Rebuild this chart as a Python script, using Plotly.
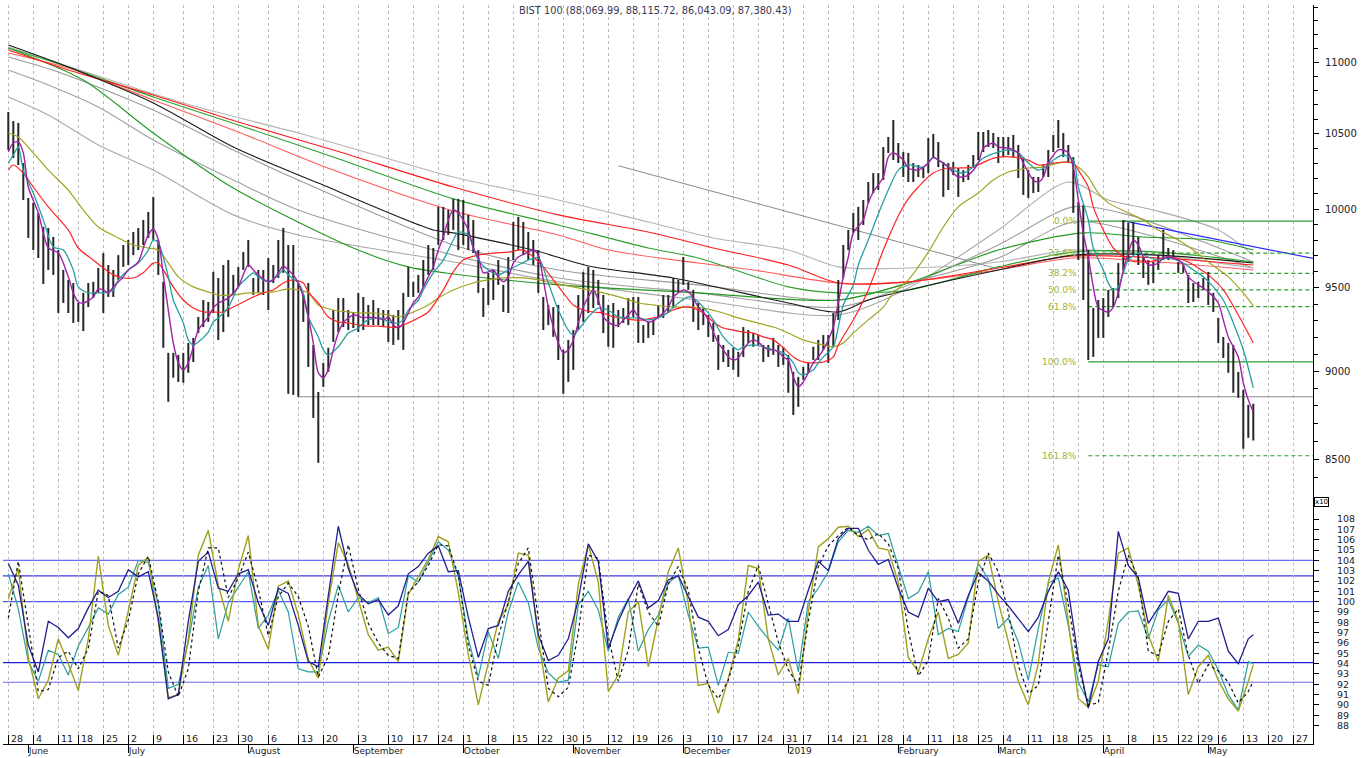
import math
import plotly.graph_objects as go

# ---------------- data (index units: trading-day number from 28 May 2018) ----------------
high = [10650,10588,10575,10303,10072,10040,9975,9884,9878,9820,
        9737,9612,9550,9531,9408,9470,9531,9538,9624,9718,
        9643,9612,9705,9769,9801,9852,9878,9929,9981,10079,
        9801,9538,9108,9108,9096,9108,9167,9197,9323,9426,
        9414,9600,9562,9643,9674,9581,9631,9724,9801,9562,
        9612,9612,9687,9643,9801,9878,9769,9769,9531,9457,
        9531,9155,8880,9049,9138,9365,9438,9438,9365,9353,
        9470,9445,9396,9426,9377,9365,9365,9335,9365,9470,
        9631,9538,9581,9674,9769,9750,10014,10014,9994,10066,
        10066,10059,9962,9929,9737,9500,9594,9612,9674,9519,
        9693,9916,9949,9916,9852,9801,9737,9445,9396,9383,
        9396,9126,9185,9244,9457,9600,9631,9612,9550,9457,
        9396,9408,9365,9377,9438,9445,9445,9274,9293,9305,
        9396,9457,9457,9562,9550,9693,9538,9488,9408,9377,
        9335,9287,9214,9155,9126,9138,9114,9262,9244,9226,
        9214,9155,9155,9197,9155,9144,9096,8996,8967,9025,
        9049,9144,9185,9214,9214,9347,9550,9769,9865,9975,
        10014,10059,10177,10236,10236,10411,10479,10595,10438,10377,
        10371,10303,10290,10276,10472,10500,10445,10310,10303,10310,
        10270,10256,10290,10357,10513,10513,10527,10506,10479,10479,
        10479,10493,10425,10343,10256,10210,10210,10290,10391,10493,
        10595,10506,10425,10343,10046,10027,9737,9377,9426,9438,
        9488,9500,9655,9929,9910,9916,9820,9693,9674,9662,
        9705,9865,9750,9737,9662,9643,9581,9531,9538,9562,
        9600,9470,9317,9203,9167,9155,8996,8892,8806,8812]
low = [10391,10337,10290,10059,9814,9737,9687,9525,9612,9581,
       9347,9408,9347,9287,9293,9238,9383,9438,9470,9347,
       9445,9445,9550,9631,9643,9705,9737,9769,9814,9801,
       9581,9138,8823,8962,8938,8933,8991,9054,9226,9262,
       9293,9347,9185,9232,9323,9457,9507,9612,9631,9457,
       9470,9457,9365,9531,9562,9594,8869,8863,8852,9293,
       9025,8731,8480,8909,8996,9173,9232,9262,9244,9256,
       9232,9244,9274,9274,9274,9262,9173,9155,9185,9126,
       9445,9445,9470,9507,9581,9612,9769,9801,9833,9865,
       9737,9769,9737,9718,9470,9323,9396,9426,9519,9353,
       9347,9674,9737,9705,9674,9643,9470,9244,9274,9203,
       9066,8869,8938,9008,9244,9293,9347,9377,9396,9226,
       9144,9138,9262,9287,9274,9323,9167,9167,9197,9214,
       9317,9317,9353,9377,9476,9519,9488,9293,9244,9274,
       9203,9173,9008,9054,9025,9008,8967,9084,9167,9144,
       9155,9054,9084,9096,9025,9037,8875,8748,8794,8950,
       8991,9066,9066,9126,9049,9144,9305,9562,9737,9846,
       9801,9897,10040,10104,10124,10190,10371,10323,10303,10210,
       10177,10177,10210,10203,10236,10343,10276,10079,10124,10223,
       10079,10177,10190,10270,10323,10377,10411,10404,10303,10343,
       10357,10343,10203,10092,10072,10104,10111,10210,10210,10377,
       10404,10343,10303,9975,9674,9426,9066,9084,9197,9197,
       9323,9383,9438,9612,9662,9705,9643,9562,9519,9531,
       9612,9674,9674,9693,9594,9594,9408,9414,9438,9488,
       9396,9353,9167,9078,8991,8875,8846,8558,8619,8604]
days = list(range(len(high)))

# short moving averages
purple_x = [0,1,2,3,4,6,7,8,10,12,13,14,15,17,18,19,20,21,23,24,26,27,28,29,30,31,32,33,34,35,
            36,37,38,40,41,42,44,45,46,48,49,50,52,53,54,55,56,57,58,59,60,61,62,63,64,65,66,67,68,69,
            70,71,72,73,74,75,76,77,78,79,80,81,82,83,84,85,86,87,88,89,90,92,93,94,95,96,97,98,99,100,
            101,102,104,105,106,107,108,109,110,111,112,113,114,115,116,117,118,119,120,121,
            122,123,124,125,126,127,128,129,130,131,132,133,134,135,136,137,138,139,140,141,
            142,143,144,145,146,147,148,149,150,151,152,153,154,155,156,157,158,159,160,161,
            162,163,164,165,166,167,168,169,171,172,173,175,176,177,179,180,182,184,185,186,
            188,189,190,192,194,195,197,198,200,201,202,203,205,206,207,208,210,211,212,213,
            214,215,216,217,218,220,221,222,223,224,225,226,227,228,230,231,232,234,235,236,
            238,239,240,242,243,244,246,247,248,249]
purple_y = [10377,10438,10445,10371,10144,9975,9846,9750,9718,9569,9470,9414,9408,9445,9494,9488,9470,9507,9569,9612,
            9662,9750,9833,9871,9801,9581,9365,9167,9049,9008,9049,9144,9244,9323,9377,9408,9438,9470,9507,9643,
            9612,9581,9538,9550,9594,9637,9612,9581,9531,9445,9323,9167,8991,8962,9008,9126,9226,9287,9317,9335,
            9329,9317,9323,9317,9317,9305,9323,9274,9256,9287,9347,9408,9445,9507,9569,9631,9737,9820,9929,9994,
            9975,9865,9750,9693,9594,9600,9612,9569,9538,9569,9655,9693,9724,9737,9705,9550,9383,9262,9167,9108,
            9126,9185,9287,9383,9445,9488,9426,9323,9293,9274,9274,9305,9335,9365,9323,9305,9293,9299,9323,9347,
            9383,9445,9470,9488,9476,9438,9383,9353,9305,9232,9167,9126,9084,9066,9078,9126,9167,9185,9173,9144,
            9126,9126,9114,9084,9066,8967,8909,8938,8991,9049,9084,9126,9185,9262,9408,9569,9693,9846,9929,10040,
            10111,10210,10343,10371,10323,10270,10256,10303,10343,10323,10276,10236,10210,10223,10303,10404,10438,10411,10404,10391,
            10371,10303,10190,10177,10210,10303,10391,10391,10371,10276,10059,9846,9693,9507,9383,9353,9383,9470,9612,9718,
            9801,9769,9693,9643,9655,9687,9693,9674,9643,9569,9519,9500,9476,9408,9305,9203,9084,8933,8834,8766]

teal_x = [0,1,2,3,5,7,9,11,13,14,16,18,19,21,22,24,26,28,29,30,32,33,35,36,37,38,40,41,42,44,
          45,46,48,49,50,52,54,55,56,58,59,60,62,63,64,66,67,68,70,71,72,74,75,76,78,79,80,82,83,85,
          87,89,90,92,93,94,96,98,100,102,104,106,108,110,112,113,114,116,118,120,
          122,124,126,128,130,132,134,136,137,139,141,143,145,146,147,149,151,153,155,157,
          158,159,161,162,163,165,166,167,169,170,172,174,176,178,180,183,185,187,189,191,
          193,195,198,200,202,204,206,208,209,211,213,214,216,217,219,220,221,222,223,224,
          226,227,230,232,235,237,239,241,243,245,247,249]
teal_y = [10303,10357,10411,10256,10104,9929,9756,9737,9612,9507,9470,9470,9470,9488,9550,9612,9655,9737,9801,9782,
          9569,9426,9287,9185,9155,9173,9232,9293,9317,9383,9445,9507,9569,9594,9569,9538,9581,9612,9581,9531,
          9470,9323,9203,9126,9096,9144,9185,9226,9256,9287,9305,9317,9311,9293,9287,9305,9365,9426,9488,9594,
          9674,9801,9852,9833,9750,9674,9612,9581,9612,9643,9674,9687,9531,9365,9244,9214,9244,9323,9377,9365,
          9323,9317,9317,9305,9317,9353,9408,9445,9438,9383,9305,9203,9144,9126,9144,9155,9144,9126,9108,9049,
          8991,8979,9008,9049,9084,9144,9262,9396,9519,9643,9801,9968,10124,10256,10290,10276,10337,10303,10256,10236,
          10276,10337,10377,10391,10371,10303,10256,10290,10323,10357,10323,10144,9929,9750,9612,9531,9488,9507,9594,9674,
          9718,9705,9674,9687,9655,9612,9569,9507,9426,9287,9126,8903]

red_x = [0,1,3,5,8,12,14,17,19,21,23,25,27,29,30,31,33,35,37,39,41,43,45,47,49,51,53,55,57,59,
         60,62,64,66,68,70,72,74,76,78,80,82,84,87,89,91,94,97,100,103,105,107,109,111,113,115,117,119,121,123,
         125,127,129,131,133,135,137,139,141,143,145,147,149,151,153,155,157,159,161,163,
         165,166,169,172,175,178,180,182,185,188,190,193,196,198,201,204,206,209,211,213,
         214,216,217,219,221,224,228,232,236,238,240,243,246,249]
red_y = [10256,10290,10236,10144,10014,9865,9750,9674,9624,9581,9562,9562,9594,9655,9655,9612,9507,9426,9377,9353,
         9353,9353,9383,9414,9445,9470,9488,9531,9550,9531,9476,9408,9323,9293,9287,9274,9268,9268,9262,9262,
         9287,9317,9353,9488,9600,9674,9705,9718,9724,9737,9693,9631,9550,9470,9396,9365,9353,9347,9323,9317,
         9305,9305,9317,9335,9365,9383,9377,9347,9293,9256,9244,9232,9226,9203,9185,9138,9084,9054,9049,9054,
         9084,9155,9305,9488,9737,9955,10066,10144,10236,10270,10270,10276,10323,10343,10343,10323,10290,10303,10310,10303,
         10256,10144,10014,9865,9750,9674,9662,9693,9662,9624,9581,9488,9335,9167]

olive_x = [0,2,5,8,12,15,18,22,25,28,30,32,34,37,40,42,45,48,50,53,56,58,60,62,65,68,70,73,76,78,
           81,84,86,89,93,96,99,103,106,109,113,116,119,123,126,129,133,136,139,143,146,149,153,156,159,163,165,167,169,172,
           175,177,180,184,187,190,194,197,200,204,207,210,212,214,216,218,220,224,227,230,234,237,240,244,247,249]
olive_y = [10506,10479,10371,10256,10124,9994,9884,9814,9769,9750,9737,9655,9569,9507,9476,9457,9457,9470,9470,9476,
           9494,9488,9470,9396,9365,9353,9347,9347,9335,9323,9353,9396,9438,9488,9531,9550,9562,9562,9550,9531,
           9507,9488,9470,9438,9408,9396,9383,9383,9377,9347,9317,9293,9262,9226,9185,9155,9144,9167,9226,9305,
           9383,9470,9550,9724,9884,10014,10104,10190,10243,10270,10276,10303,10310,10276,10210,10104,10040,9975,9929,9865,
           9801,9737,9662,9569,9470,9390]

# long moving averages
ma_black_x = [0,12,29,45,62,85,89,105,116,133,156,166,172,180,198,213,230,249]
ma_black_y = [11124,10966,10713,10411,10170,9865,9846,9737,9637,9562,9408,9353,9426,9488,9612,9705,9705,9655]
ma_lgrey_x = [0,10,35,58,72,89,110,128,141,156,166,180,198,213,230,249]
ma_lgrey_y = [11110,10995,10713,10506,10371,10210,10059,9916,9814,9737,9631,9624,9662,9737,9705,9624]
ma_red_x = [0,12,29,46,65,89,110,128,141,156,166,180,198,213,230,249]
ma_red_y = [11088,10945,10769,10581,10391,10144,9962,9852,9750,9643,9531,9538,9624,9699,9687,9643]
ma_green_x = [0,12,29,46,65,89,110,128,138,156,166,180,198,213,230,249]
ma_green_y = [11103,10966,10755,10561,10343,10066,9897,9750,9687,9507,9470,9488,9631,9724,9724,9662]
ma_lred_x = [0,12,29,46,65,89,110,120,138,149,166,180,198,213,230,249]
ma_lred_y = [11067,10959,10734,10513,10256,9987,9833,9737,9655,9612,9531,9538,9612,9687,9662,9612]
ma_g1_x = [0,10,29,45,58,89,110,138,166,180,198,213,228,249]
ma_g1_y = [11038,10931,10664,10391,10190,9769,9612,9519,9426,9531,9687,9916,9833,9624]
ma_g2_x = [0,8,18,29,45,58,89,110,138,166,180,198,213,224,238,249]
ma_g2_y = [10945,10839,10685,10458,10190,9994,9705,9562,9470,9383,9519,9769,10014,9962,9801,9662]
ma_g3_x = [0,8,18,29,45,58,89,110,138,166,180,198,212,220,229,242,249]
ma_g3_y = [10755,10630,10425,10256,9962,9833,9662,9538,9426,9335,9500,9865,10177,10059,9994,9865,9705]
ma_dgreen_x = [0,15,29,45,70,80,89,110,138,166,180,198,215,227,240,249]
ma_dgreen_y = [11103,10874,10506,10137,9737,9631,9587,9519,9470,9426,9531,9737,9846,9820,9801,9737]

# drawn lines / levels
trend_grey_x = [122, 198]
trend_grey_y = [10285, 9618]
trend_blue_x = [223, 261]
trend_blue_y = [9923, 9684]
support_x = [58, 261]
support_level = 8852
fib_start = 216
fib_end = 261
fib_high = 9922
fib_low = 9055
fib_ratios = [0.0, 0.236, 0.382, 0.5, 0.618, 1.0, 1.618]
fib_labels = ["0.0%", "23.6%", "38.2%", "50.0%", "61.8%", "100.0%", "161.8%"]

# oscillator panel (x10)
osc_days = list(range(0, 249, 2)) + [249]
osc_navy = [103.7,101.6,95.8,93.2,98.1,97.5,96.5,97.4,99.4,101.1,
            100.4,101.0,103.1,102.4,102.9,98.4,90.6,91.0,98.1,103.9,
            104.8,101.3,101.0,102.7,103.1,99.9,97.7,101.3,100.8,97.7,
            94.2,93.7,100.6,107.3,103.2,100.7,99.8,100.2,98.7,99.6,
            102.7,103.4,104.7,105.4,102.9,
            103.0,98.5,94.6,97.4,97.7,101.0,102.6,103.9,96.8,94.3,
            94.8,96.4,100.2,105.6,103.9,95.5,98.1,100.2,102.0,99.4,
            100.1,102.1,102.5,100.5,98.5,98.1,96.7,97.3,99.7,100.6,
            101.9,98.7,98.8,98.1,98.1,101.1,103.9,103.0,106.1,107.1,
            107.1,105.0,103.6,104.1,101.3,99.0,
            98.5,101.3,100.0,100.2,97.9,100.6,102.8,102.0,100.7,99.6,
            98.4,97.1,98.5,101.0,102.9,101.1,94.5,89.7,94.2,96.4,
            106.8,103.5,102.3,97.9,99.4,101.0,100.8,96.4,98.1,98.1,
            98.4,95.2,94.0,96.4,96.8]
osc_teal = [102.7,99.3,94.2,92.3,95.3,94.9,92.9,95.7,97.5,99.4,
            98.8,100.7,101.4,104.0,103.8,99.7,91.6,92.0,96.1,101.4,
            103.5,96.4,99.9,101.4,102.9,97.4,98.7,101.1,99.0,93.5,
            93.2,93.2,98.1,101.6,99.0,100.4,99.9,100.4,96.9,97.5,
            102.5,101.9,103.9,105.8,105.0,
            102.5,96.4,92.7,97.1,94.5,99.0,101.9,99.9,95.5,93.1,
            92.2,92.4,99.7,101.0,99.2,95.2,98.5,100.3,95.2,97.3,
            98.7,101.8,102.6,98.7,95.5,95.6,91.9,95.1,95.0,99.0,
            97.6,96.4,95.3,98.4,93.2,100.0,101.3,102.9,105.8,106.9,
            106.7,107.3,106.4,106.6,103.4,100.3,
            100.9,102.9,96.8,97.4,97.1,100.3,103.7,102.2,97.4,98.4,
            96.1,92.4,97.4,101.8,102.3,97.7,92.2,90.3,93.9,93.7,
            97.9,99.0,99.1,96.4,99.2,100.2,97.9,94.7,95.8,95.2,
            93.4,91.0,89.5,94.2,94.0]
osc_olive = [100.3,103.2,94.6,90.6,92.4,96.4,94.0,91.4,96.4,104.4,
             97.7,94.8,99.1,103.5,104.3,98.1,90.7,91.0,96.4,104.5,
             106.9,101.6,98.1,103.1,106.4,97.7,95.4,101.5,102.0,98.7,
             94.4,92.6,99.9,105.7,103.6,100.2,96.8,95.3,95.6,94.2,
             100.7,102.4,104.1,106.3,105.8,
             100.9,94.9,90.0,94.1,98.1,99.7,104.7,104.5,96.4,90.3,
             92.6,93.3,101.7,105.5,101.9,91.3,92.9,99.0,100.0,93.7,
             98.4,102.9,105.2,99.8,91.9,92.1,89.2,92.6,96.3,103.5,
             103.2,96.4,92.9,94.5,91.1,99.0,105.3,106.1,107.2,107.3,
             106.3,107.0,105.2,105.0,101.9,94.6,
             93.2,96.4,99.0,94.5,94.9,96.0,103.9,104.5,100.0,96.1,
             92.3,90.0,94.0,101.9,105.5,98.1,90.6,89.8,92.3,98.2,
             104.7,105.2,101.6,96.8,94.2,100.6,98.1,91.0,93.7,94.8,
             92.4,90.6,89.4,92.3,93.9]
osc_signal = [98.4,103.9,97.7,91.3,91.5,94.6,95.2,93.5,95.5,101.0,
              100.6,95.5,98.2,102.7,104.4,100.0,93.2,90.8,93.5,101.0,
              105.2,105.2,100.4,102.3,104.8,101.2,96.7,100.5,101.8,100.5,
              97.6,92.7,94.7,100.7,105.5,101.2,97.9,96.0,94.8,94.5,
              100.9,101.9,103.5,105.5,105.4,
              102.6,95.8,92.3,91.9,96.6,100.0,103.7,105.2,98.4,91.6,
              90.8,91.7,97.0,104.5,104.2,96.6,92.3,95.3,101.7,99.0,
              97.6,101.7,103.4,101.1,95.5,91.9,90.6,92.4,95.8,101.0,
              103.5,99.7,96.1,93.4,91.9,98.1,103.4,105.4,106.4,107.2,
              106.4,106.0,106.6,105.6,103.2,97.2,
              92.8,94.3,100.3,98.4,95.5,96.4,101.9,104.7,102.9,99.0,
              93.8,91.1,91.9,98.1,104.5,99.7,93.8,90.0,90.2,95.2,
              101.0,104.5,102.3,95.2,94.8,98.1,99.3,94.8,92.1,93.9,
              93.3,92.2,90.2,91.3,92.3]
osc_levels = [104.0, 102.5, 100.0, 94.1, 92.2]
osc_level_colors = ["#6a6af2", "#3a3ae6", "#5a5af0", "#1a1ad8", "#6a6af2"]

# axis ticks
week_days = [0,5,10,14,19,24,29,35,41,46,52,58,63,70,76,81,86,91,96,101,106,111,115,120,125,130,
             135,140,145,150,155,159,164,169,174,179,184,189,194,199,204,209,214,219,224,229,234,238,242,247,252,257]
week_labels = ["28","4","11","18","25","2","9","16","23","30","6","13","20","3","10","17","24","1","8","15","22",
               "30","5","12","19","26","3","10","17","24","31","7","14","21","28","4","11","18","25","4","11","18","25",
               "1","8","15","22","29","6","13","20","27"]
month_days = [4, 24, 48, 69, 91, 113, 135, 156, 178, 198, 219, 240]
month_labels = ["June", "July", "August", "September", "October", "November", "December",
                "2019", "February", "March", "April", "May"]
price_ticks = [8500, 9000, 9500, 10000, 10500, 11000]
price_minor = list(range(8400, 11500, 100))
osc_ticks = list(range(88, 109))

title_text = "BIST 100 (88,069.99, 88,115.72, 86,043.09, 87,380.43)"

# ---------------- figure ----------------
X_RANGE = [-1.06, 260.94]
SPLIT = 0.3342
FONT = "DejaVu Sans, Liberation Sans, Arial, sans-serif"

fig = go.Figure()

def add_line(x, y, color, width=1.1, axis=("x", "y"), shape="spline", dash=None):
    fig.add_trace(go.Scatter(x=x, y=y, mode="lines", xaxis=axis[0], yaxis=axis[1],
                             line=dict(color=color, width=width, shape=shape, dash=dash,
                                       smoothing=0.8 if shape == "spline" else None),
                             hoverinfo="skip", showlegend=False))

# long MAs (background)
add_line(ma_g3_x, ma_g3_y, "#a9a9a9")
add_line(ma_g2_x, ma_g2_y, "#a0a0a0")
add_line(ma_g1_x, ma_g1_y, "#9a9a9a")
add_line(ma_dgreen_x, ma_dgreen_y, "#1f9a1f")
add_line(ma_lgrey_x, ma_lgrey_y, "#b4b4b4")
add_line(ma_lred_x, ma_lred_y, "#ff5a5a")
add_line(ma_green_x, ma_green_y, "#2ca02c")
add_line(ma_red_x, ma_red_y, "#ff1a1a")
add_line(ma_black_x, ma_black_y, "#1a1a1a")

# trend / support lines
add_line(trend_grey_x, trend_grey_y, "#8a8a8a", 1, shape="linear")
add_line(trend_blue_x, trend_blue_y, "#2b2bff", 1.2, shape="linear")
add_line(support_x, [support_level, support_level], "#8c8c8c", 1.2, shape="linear")

# fibonacci levels
for r, lab in zip(fib_ratios, fib_labels):
    lvl = fib_high - r * (fib_high - fib_low)
    solid = r in (0.0, 1.0)
    add_line([fib_start, fib_end], [lvl, lvl], "#2f9f2f", 1.2, shape="linear",
             dash=None if solid else "4px,3px")
    fig.add_annotation(x=214.2, y=math.log10(lvl), xref="x", yref="y", text=lab,
                       showarrow=False, xanchor="right", yanchor="middle",
                       font=dict(family=FONT, size=9, color="#9cb43a"))

# price bars
bx, by = [], []
for d, h, l in zip(days, high, low):
    bx += [d, d, None]
    by += [l, h, None]
fig.add_trace(go.Scatter(x=bx, y=by, mode="lines", line=dict(color="#262626", width=2),
                         hoverinfo="skip", showlegend=False, xaxis="x", yaxis="y"))

# short MAs
add_line(olive_x, olive_y, "#a3a320", 1.2)
add_line(red_x, red_y, "#ff2222", 1.2)
add_line(teal_x, teal_y, "#24a0a0", 1.3)
add_line(purple_x, purple_y, "#a020a8", 1.4)

# oscillator panel
add_line(osc_days, osc_teal, "#2a9d9d", 1.2, axis=("x2", "y2"), shape="linear")
add_line(osc_days, osc_olive, "#a0a01e", 1.4, axis=("x2", "y2"), shape="linear")
add_line(osc_days, osc_navy, "#1f1f90", 1.3, axis=("x2", "y2"), shape="linear")
add_line(osc_days, osc_signal, "#111111", 1.2, axis=("x2", "y2"), shape="linear", dash="dot")
# invisible carrier for month axis
fig.add_trace(go.Scatter(x=[X_RANGE[0]], y=[95], xaxis="x3", yaxis="y2", mode="markers",
                         marker=dict(opacity=0), hoverinfo="skip", showlegend=False))

for lvl, col in zip(osc_levels, osc_level_colors):
    fig.add_shape(type="line", xref="x2 domain", x0=0, x1=1, yref="y2", y0=lvl, y1=lvl,
                  line=dict(color=col, width=1.2), layer="below")

# week-day labels sit above the date axis line, just right of each tick
for d, lab in zip(week_days, week_labels):
    fig.add_annotation(x=d, y=0.0068, xref="x2", yref="paper", text=lab, showarrow=False,
                       xanchor="left", yanchor="middle", xshift=1,
                       font=dict(family=FONT, size=9.5, color="#222"))

fig.add_annotation(x=0.4981, y=0.9932, xref="paper", yref="paper", text=title_text,
                   showarrow=False, xanchor="center", yanchor="middle",
                   font=dict(family=FONT, size=9.8, color="#3a3a55"))
fig.add_annotation(x=1.0008, y=SPLIT, xref="paper", yref="paper", text="x10",
                   showarrow=False, xanchor="left", yanchor="top",
                   bordercolor="#000", borderwidth=1, borderpad=0,
                   font=dict(family=FONT, size=7, color="#000"))

grid = dict(showgrid=True, gridcolor="#bdbdbd", griddash="dot", gridwidth=1)

fig.update_layout(
    template="none",
    width=1365, height=758,
    margin=dict(l=3, r=52, t=5, b=14, autoexpand=False),
    paper_bgcolor="white", plot_bgcolor="white",
    showlegend=False, hovermode=False,
    font=dict(family=FONT, size=10, color="#222"),
    xaxis=dict(domain=[0, 1], anchor="y", range=X_RANGE, tickmode="array", tickvals=week_days,
               showticklabels=False, ticks="", zeroline=False, showline=False, automargin=False, **grid),
    yaxis=dict(domain=[SPLIT, 1], anchor="x", type="log", range=[3.918759, 4.057546], side="right",
               tickmode="array", tickvals=price_ticks, ticktext=[str(v) for v in price_ticks],
               ticks="outside", ticklen=5, tickcolor="#000", showline=True, linecolor="#000",
               linewidth=1, showgrid=False, zeroline=False, automargin=False,
               ticklabelstandoff=4, tickfont=dict(family=FONT, size=10, color="#222"),
               minor=dict(tickmode="array", tickvals=price_minor, ticks="outside", ticklen=4,
                          tickcolor="#000", showgrid=False)),
    xaxis2=dict(domain=[0, 1], anchor="y2", range=X_RANGE, tickmode="array", tickvals=week_days,
                showticklabels=False, ticks="inside", ticklen=9, tickcolor="#000",
                showline=True, linecolor="#000", linewidth=1,
                zeroline=False, automargin=False, **grid),
    yaxis2=dict(domain=[0, SPLIT], anchor="x2", range=[86.22, 110.13], side="right",
                tickmode="array", tickvals=osc_ticks, ticks="outside", ticklen=5, tickcolor="#000",
                showline=True, linecolor="#000", linewidth=1, showgrid=False, zeroline=False,
                automargin=False, ticklabelstandoff=16,
                tickfont=dict(family=FONT, size=9.5, color="#222")),
    xaxis3=dict(overlaying="x2", anchor="y2", side="bottom", range=X_RANGE, tickmode="array",
                tickvals=month_days, ticktext=month_labels, ticks="outside", ticklen=8,
                tickcolor="#000", ticklabelposition="outside right", ticklabelstandoff=-2,
                showgrid=False, showline=False, zeroline=False, automargin=False,
                tickfont=dict(family=FONT, size=9, color="#222")),
)

fig.write_html("out.html",
               config={"displayModeBar": False, "staticPlot": True},
               post_script="document.body.style.margin='0px';document.body.style.padding='0px';")
